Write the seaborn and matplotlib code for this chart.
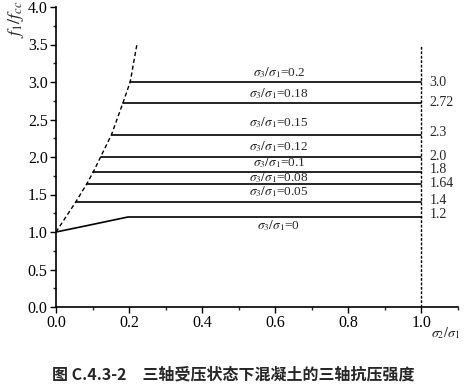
import matplotlib
matplotlib.use("Agg")
import matplotlib.pyplot as plt
from matplotlib.ticker import MultipleLocator
import numpy as np
import pandas as pd
import seaborn as sns

# ---- data ----
ratios = ["0.2", "0.18", "0.15", "0.12", "0.1", "0.08", "0.05", "0"]
strength = [3.0, 2.72, 2.3, 2.0, 1.8, 1.64, 1.4, 1.2]
start_x = [0.203, 0.183, 0.152, 0.122, 0.102, 0.084, 0.054, 0.197]
end_x = 1.0
# sigma3/sigma1 = 0 curve (rising part before the plateau)
zero_x = [0.0, 0.07, 0.197]
zero_y = [1.0, 1.07, 1.2]
# dashed envelope
env_x = [0.0, 0.054, 0.084, 0.102, 0.122, 0.152, 0.183, 0.203, 0.221]
env_y = [1.0, 1.4, 1.64, 1.8, 2.0, 2.3, 2.72, 3.0, 3.49]
vline_x = [1.0, 1.0]
vline_y = [0.0, 3.5]
right_labels = ["3.0", "2.72", "2.3", "2.0", "1.8", "1.64", "1.4", "1.2"]

# layout offsets for text (not data)
ratio_label_dy = [0.12, 0.13, 0.16, 0.14, 0.12, 0.08, 0.14, -0.11]
right_label_dy = [0.0, 0.0, 0.02, 0.01, 0.03, 0.01, 0.02, 0.03]

# ---- build table ----
rows = []
for r, v, sx in zip(ratios, strength, start_x):
    if r == "0":
        for x, y in zip(zero_x, zero_y):
            rows.append((r, x, y))
    else:
        rows.append((r, sx, v))
    rows.append((r, end_x, v))
df = pd.DataFrame(rows, columns=["ratio", "x", "y"])
env = pd.DataFrame({"x": env_x, "y": env_y})
vl = pd.DataFrame({"x": vline_x, "y": vline_y})

sns.set_theme(style="ticks")
plt.rcParams["font.family"] = ["Liberation Serif", "DejaVu Serif"]
plt.rcParams["mathtext.fontset"] = "stix"

fig = plt.figure(figsize=(4.66, 3.86), dpi=100)
ax = fig.add_axes([56 / 466, 1 - 307 / 386, (458 - 56) / 466, 300 / 386])

sns.lineplot(data=df, x="x", y="y", units="ratio", estimator=None, sort=False,
             color="black", linewidth=1.2, ax=ax)
sns.lineplot(data=env, x="x", y="y", estimator=None, sort=False,
             color="black", linewidth=1.0, linestyle=(0, (3, 2)), ax=ax)
sns.lineplot(data=vl, x="x", y="y", estimator=None, sort=False,
             color="black", linewidth=1.0, linestyle=(0, (2, 1.2)), ax=ax)

ax.set_xlim(0, 1.1)
ax.set_ylim(0, 4.0)
ax.set_xticks([0, 0.2, 0.4, 0.6, 0.8, 1.0])
ax.set_xticklabels(["0.0", "0.2", "0.4", "0.6", "0.8", "1.0"])
ax.xaxis.set_minor_locator(MultipleLocator(0.1))
ax.yaxis.set_major_locator(MultipleLocator(0.5))
ax.yaxis.set_minor_locator(MultipleLocator(0.25))
ax.set_yticklabels([f"{v:.1f}" for v in ax.get_yticks()])
ax.tick_params(axis="both", which="major", direction="out", length=4, width=1,
               labelsize=11.5, colors="black", pad=2)
ax.tick_params(axis="both", which="minor", direction="out", length=2, width=1)
ax.set_xlabel("")
ax.set_ylabel("")
sns.despine(ax=ax)
for s in ["left", "bottom"]:
    ax.spines[s].set_linewidth(1.2)
    ax.spines[s].set_color("black")

for r, v, dy in zip(ratios, strength, ratio_label_dy):
    ax.text(0.61, v + dy, r"$\sigma_3/\sigma_1$=" + r, ha="center", va="center",
            fontsize=9.5)
for lab, v, dy in zip(right_labels, strength, right_label_dy):
    ax.text(1.022, v + dy, lab, ha="left", va="center", fontsize=10)

ax.text(1.066, -0.35, r"$\sigma_2/\sigma_1$", ha="center", va="center",
        fontsize=10, clip_on=False)
fig.text(16 / 466, 0.998, r"$f_1/f_{cc}$", rotation=90, ha="center", va="top",
         fontsize=13)
fig.text(233 / 466, 1 - 375 / 386, "图 C.4.3-2　三轴受压状态下混凝土的三轴抗压强度",
         ha="center", va="center", fontsize=11.5, fontweight="bold",
         family=["Noto Sans CJK SC", "DejaVu Sans"])

fig.savefig("out.png", dpi=100)
